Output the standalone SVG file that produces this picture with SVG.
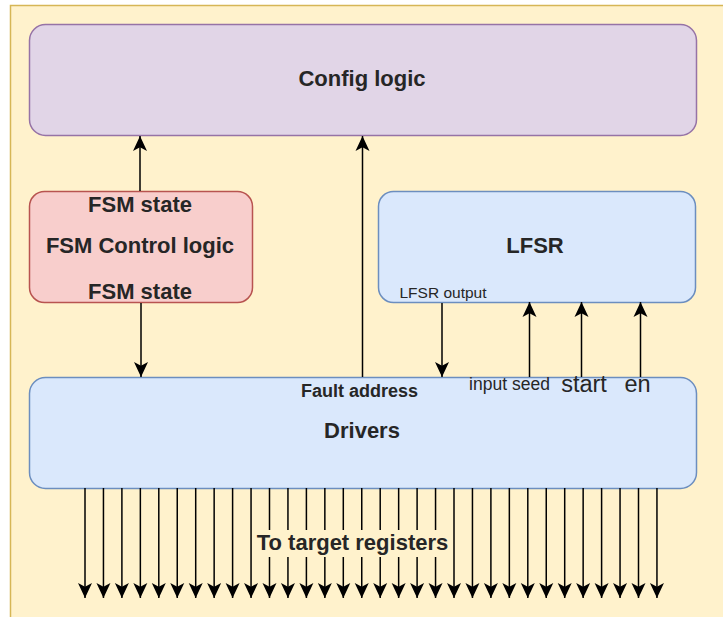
<svg xmlns="http://www.w3.org/2000/svg" width="723" height="617" viewBox="0 0 723 617">
  <defs>
    <marker id="arrow" markerUnits="userSpaceOnUse" viewBox="0 0 15 15" refX="15" refY="7.5" markerWidth="15" markerHeight="15" orient="auto">
      <path d="M0,0.5 L15,7.5 L0,14.5 L3.8,7.5 Z" fill="#000"/>
    </marker>
    <style>
      .bg { fill: #fff2cc; stroke: #d6b656; stroke-width: 1.5; }
      .purple { fill: #e1d5e7; stroke: #9673a6; stroke-width: 1.5; }
      .red { fill: #f8cecc; stroke: #b85450; stroke-width: 1.5; }
      .blue { fill: #dae8fc; stroke: #6c8ebf; stroke-width: 1.5; }
      .wire { stroke: #000; stroke-width: 1.5; fill: none; marker-end: url(#arrow); }
      text { font-family: "Liberation Sans", Arial, sans-serif; fill: #262626; text-anchor: middle; }
      .big { font-size: 22px; font-weight: bold; }
      .mid { font-size: 18px; font-weight: bold; }
      .small { font-size: 15.5px; }
      .seed { font-size: 17.5px; }
      .sig { font-size: 23.5px; }
    </style>
  </defs>

  <!-- container -->
  <rect class="bg" x="10.5" y="5.5" width="725" height="625"/>

  <!-- blocks -->
  <g id="config-logic">
    <rect class="purple" x="29.5" y="24.5" width="667" height="111" rx="16"/>
    <text class="big" x="362" y="86">Config logic</text>
  </g>

  <g id="fsm-control">
    <rect class="red" x="29.5" y="191.5" width="223" height="111" rx="15"/>
    <text class="big" x="140" y="212">FSM state</text>
    <text class="big" x="140" y="253">FSM Control logic</text>
    <text class="big" x="140" y="299">FSM state</text>
  </g>

  <g id="lfsr">
    <rect class="blue" x="378.5" y="191.5" width="317" height="111" rx="15"/>
    <text class="big" x="535" y="253">LFSR</text>
    <text class="small" x="443" y="298">LFSR output</text>
  </g>

  <g id="drivers">
    <rect class="blue" x="29.5" y="377.5" width="667" height="111" rx="16"/>
    <text class="mid" x="359.5" y="397">Fault address</text>
    <text class="big" x="362" y="438">Drivers</text>
    <text class="seed" x="509.5" y="390">input seed</text>
    <text class="sig" x="584" y="392">start</text>
    <text class="sig" x="637.5" y="392">en</text>
  </g>

  <!-- connectors -->
  <g id="connectors">
    <line class="wire" x1="140" y1="191" x2="140" y2="136"/>
    <line class="wire" x1="141" y1="303" x2="141" y2="377"/>
    <line class="wire" x1="362.5" y1="377" x2="362.5" y2="136"/>
    <line class="wire" x1="442" y1="303" x2="442" y2="377"/>
    <line class="wire" x1="529.5" y1="377" x2="529.5" y2="302"/>
    <line class="wire" x1="581.5" y1="377" x2="581.5" y2="302"/>
    <line class="wire" x1="640.5" y1="377" x2="640.5" y2="302"/>

    <!-- output bus: 32 lines -->
    <g id="bus">
      <line class="wire" x1="85" y1="488" x2="85" y2="598"/>
      <line class="wire" x1="103.45" y1="488" x2="103.45" y2="598"/>
      <line class="wire" x1="121.9" y1="488" x2="121.9" y2="598"/>
      <line class="wire" x1="140.35" y1="488" x2="140.35" y2="598"/>
      <line class="wire" x1="158.8" y1="488" x2="158.8" y2="598"/>
      <line class="wire" x1="177.25" y1="488" x2="177.25" y2="598"/>
      <line class="wire" x1="195.7" y1="488" x2="195.7" y2="598"/>
      <line class="wire" x1="214.15" y1="488" x2="214.15" y2="598"/>
      <line class="wire" x1="232.6" y1="488" x2="232.6" y2="598"/>
      <line class="wire" x1="251.05" y1="488" x2="251.05" y2="598"/>
      <line class="wire" x1="269.5" y1="488" x2="269.5" y2="598"/>
      <line class="wire" x1="287.95" y1="488" x2="287.95" y2="598"/>
      <line class="wire" x1="306.4" y1="488" x2="306.4" y2="598"/>
      <line class="wire" x1="324.85" y1="488" x2="324.85" y2="598"/>
      <line class="wire" x1="343.3" y1="488" x2="343.3" y2="598"/>
      <line class="wire" x1="361.75" y1="488" x2="361.75" y2="598"/>
      <line class="wire" x1="380.2" y1="488" x2="380.2" y2="598"/>
      <line class="wire" x1="398.65" y1="488" x2="398.65" y2="598"/>
      <line class="wire" x1="417.1" y1="488" x2="417.1" y2="598"/>
      <line class="wire" x1="435.55" y1="488" x2="435.55" y2="598"/>
      <line class="wire" x1="454" y1="488" x2="454" y2="598"/>
      <line class="wire" x1="472.45" y1="488" x2="472.45" y2="598"/>
      <line class="wire" x1="490.9" y1="488" x2="490.9" y2="598"/>
      <line class="wire" x1="509.35" y1="488" x2="509.35" y2="598"/>
      <line class="wire" x1="527.8" y1="488" x2="527.8" y2="598"/>
      <line class="wire" x1="546.25" y1="488" x2="546.25" y2="598"/>
      <line class="wire" x1="564.7" y1="488" x2="564.7" y2="598"/>
      <line class="wire" x1="583.15" y1="488" x2="583.15" y2="598"/>
      <line class="wire" x1="601.6" y1="488" x2="601.6" y2="598"/>
      <line class="wire" x1="620.05" y1="488" x2="620.05" y2="598"/>
      <line class="wire" x1="638.5" y1="488" x2="638.5" y2="598"/>
      <line class="wire" x1="656.95" y1="488" x2="656.95" y2="598"/>
    </g>
    <g id="bus-label">
      <rect x="256" y="530" width="193" height="27" fill="#fff2cc"/>
      <text class="big" x="352.5" y="550">To target registers</text>
    </g>
  </g>
</svg>
